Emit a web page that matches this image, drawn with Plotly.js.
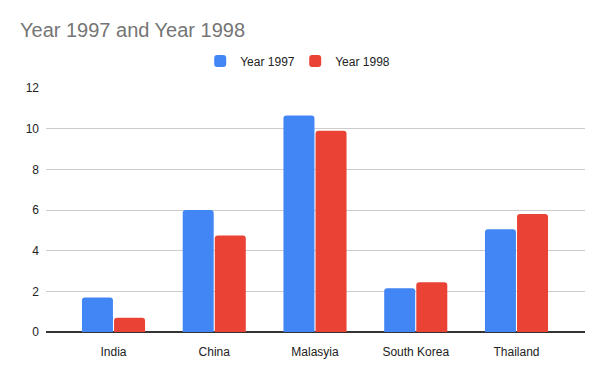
<!DOCTYPE html>
<html>
<head>
<meta charset="utf-8">
<script src="https://cdn.plot.ly/plotly-3.0.1.min.js"></script>
<style>html,body{margin:0;padding:0;background:#fff}#chart{width:600px;height:371px}</style>
</head>
<body>
<div id="chart"></div>
<script>
const categories = ["India", "China", "Malasyia", "South Korea", "Thailand"];
const year1997 = [1.7, 6.0, 10.65, 2.15, 5.05];
const year1998 = [0.7, 4.75, 9.9, 2.45, 5.8];
const seriesNames = ["Year 1997", "Year 1998"];
const yTicks = [0, 2, 4, 6, 8, 10, 12];

const data = [
  {type: "bar", name: seriesNames[0], x: categories, y: year1997, marker: {color: "#4285F4"}, hoverinfo: "x+y"},
  {type: "bar", name: seriesNames[1], x: categories, y: year1998, marker: {color: "#EA4335"}, hoverinfo: "x+y"}
];

const FONT = "Arial, 'Liberation Sans', sans-serif";
const layout = {
  width: 600, height: 371,
  margin: {l: 46, r: 15, t: 88, b: 39, pad: 0},
  paper_bgcolor: "#fff", plot_bgcolor: "#fff",
  font: {family: FONT, size: 12, color: "#222"},
  title: {text: "Year 1997 and Year 1998", font: {family: FONT, size: 20, color: "#757575"},
    xref: "container", x: 20/600, xanchor: "left", yref: "container", y: 1 - 30/371, yanchor: "middle"},
  barmode: "group", bargap: 0.363, bargroupgap: 0.034, barcornerradius: 3,
  showlegend: true,
  legend: {orientation: "h", xref: "container", x: 0.492, xanchor: "center", yref: "container", y: 1 - 61/371, yanchor: "middle",
    font: {family: FONT, size: 12, color: "#222"}, itemwidth: 30, entrywidth: 50, traceorder: "normal"},
  xaxis: {type: "category", range: [-0.67, 4.68], showgrid: false, showline: false, zeroline: false, ticks: "",
    ticklabelstandoff: 11, tickfont: {family: FONT, size: 12, color: "#222"}, fixedrange: true},
  yaxis: {range: [0, 12], tickvals: yTicks, ticktext: yTicks.map(String), showgrid: true, gridcolor: "#cccccc", gridwidth: 1,
    zeroline: true, zerolinecolor: "#333333", zerolinewidth: 1.5, showline: false, ticks: "", ticklabelstandoff: 6,
    tickfont: {family: FONT, size: 12, color: "#222"}, fixedrange: true}
};

Plotly.newPlot("chart", data, layout, {displayModeBar: false, staticPlot: true});
</script>
</body>
</html>
